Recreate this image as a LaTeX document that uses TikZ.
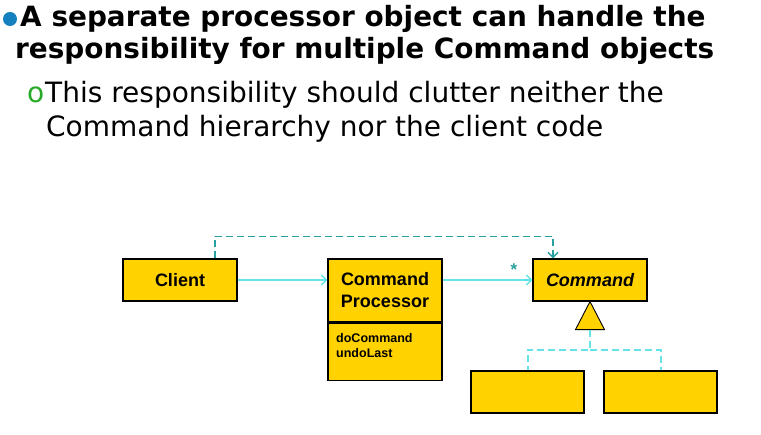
\documentclass[tikz,border=0pt]{standalone}
\usepackage{fontspec}
\setmainfont{DejaVu Sans}
\newfontfamily\arialfont{Liberation Sans}
\usetikzlibrary{arrows.meta}
\definecolor{boxfill}{RGB}{255,210,0}
\definecolor{darkteal}{RGB}{40,160,160}
\definecolor{lightcyan}{RGB}{100,228,232}
\definecolor{bulletblue}{RGB}{20,128,192}
\definecolor{bulletgreen}{RGB}{40,170,40}
\tikzset{
  cls/.style={draw=black, line width=1.2pt, fill=boxfill, rectangle, inner sep=0pt,
    minimum width=114pt, minimum height=42pt, font=\arialfont\bfseries\fontsize{18}{22}\selectfont,
    align=center},
  title/.style={anchor=base west, inner sep=0pt, font=\bfseries\fontsize{27.9}{30}\selectfont},
  body/.style={anchor=base west, inner sep=0pt, font=\fontsize{28}{30}\selectfont},
  assoc/.style={draw=lightcyan, line width=1.5pt, -{Straight Barb[length=5pt,width=10pt,line width=1.5pt]}},
  dep/.style={draw=darkteal, line width=1.6pt, dash pattern=on 7pt off 4pt,
    -{Straight Barb[length=5pt,width=10pt,line width=1.5pt]}},
  inh/.style={draw=lightcyan, line width=2pt, dash pattern=on 7pt off 4pt},
}
\begin{document}
\begin{tikzpicture}[x=1pt, y=-1pt]
\useasboundingbox (0,0) rectangle (761,435);
\fill[white] (0,0) rectangle (761,435);

% bullet text
\fill[bulletblue] (10,19) circle (7);
\node[title] (t1) at (20,27) {A separate processor object can handle the};
\node[title] (t2) at (15,59) {responsibility for multiple Command objects};
\node[body, text=bulletgreen] (o1) at (27,103) {o};
\node[body] (t3) at (45,103) {This responsibility should clutter neither the};
\node[body] (t4) at (46,137) {Command hierarchy nor the client code};

% classes
\node[cls] (client) at (180,280) {Client};
\node[cls, minimum height=63pt] (cp) at (385,290.5) {Command\\Processor};
\node[cls, minimum height=57pt, anchor=north] (ops) at (cp.south) {};
\node[anchor=base west, inner sep=0pt, font=\arialfont\bfseries\fontsize{12.5}{15}\selectfont,
  align=left] (opstext) at (336,358) {doCommand\\undoLast};
\node[cls, font=\arialfont\bfseries\itshape\fontsize{18}{22}\selectfont] (cmd) at (590,280) {Command};
\node[cls, minimum width=113pt] (sub1) at (527.5,392) {};
\node[cls, minimum width=113pt] (sub2) at (660.5,392) {};

% generalization triangle under Command
\coordinate (apex) at (cmd.south);
\coordinate (tri) at ([yshift=-28pt]cmd.south);
\draw[fill=boxfill, line width=0.9pt] (apex) -- ([xshift=-14.5pt]tri) -- ([xshift=14.5pt]tri) -- cycle;
\draw[inh] (tri) -- ++(0,20) -| (sub1.north);
\draw[inh] (tri) ++(0,20) -| (sub2.north);

% associations
\draw[assoc] (client.east) -- (cp.west |- client.east);
\draw[assoc] (cp.east |- cmd.west) -- (cmd.west);
\node[text=darkteal, font=\arialfont\bfseries\fontsize{17}{17}\selectfont, inner sep=0pt] (star) at (514,270) {*};

% dependency from Client to Command
\draw[dep] ([xshift=35pt]client.north) -- ++(0,-22) -| ([xshift=-37pt]cmd.north);
\end{tikzpicture}
\end{document}
